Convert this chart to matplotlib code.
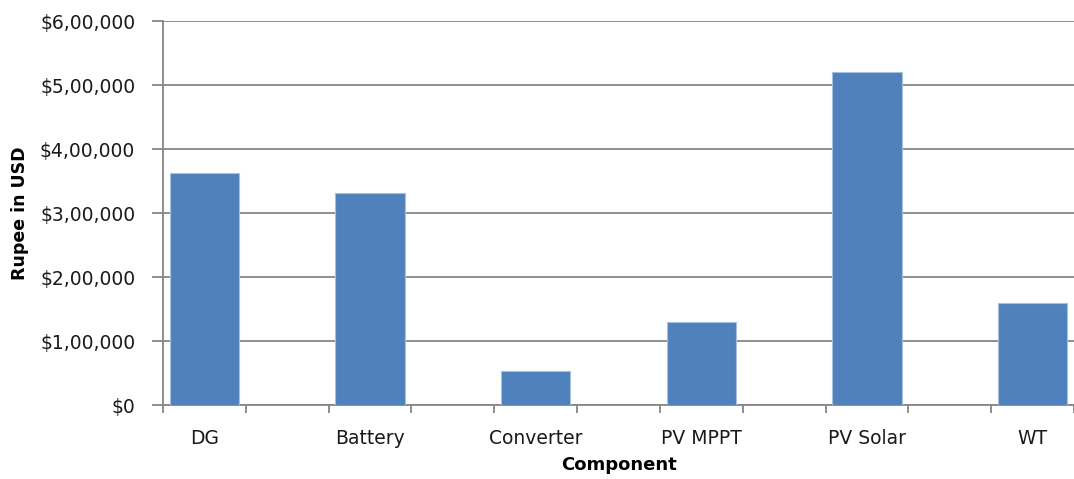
import numpy as np
import matplotlib.pyplot as plt
from matplotlib.ticker import FuncFormatter, FixedLocator

# component costs
components = ["DG", "Battery", "Converter", "PV MPPT", "PV Solar", "WT"]
costs = [362000, 332000, 53000, 130000, 520000, 160000]


def rupee_fmt(v, pos=None):
    ''' $ with Indian digit grouping, e.g. $5,00,000 '''
    s = str(int(round(v)))
    if len(s) <= 3:
        return "$" + s
    head, tail = s[:-3], s[-3:]
    groups = []
    while len(head) > 2:
        groups.insert(0, head[-2:])
        head = head[:-2]
    if head:
        groups.insert(0, head)
    return "$" + ",".join(groups) + "," + tail


plt.rcParams['font.family'] = ['DejaVu Sans']
grey = '#868686'

fig = plt.figure(figsize=[10.74, 4.79], dpi=100)
ax = fig.add_axes([163 / 1074, 1 - 405 / 479, 1 - 163 / 1074, (405 - 21) / 479])

# every component sits in its own slot with an empty slot after it
x = np.arange(len(components)) * 2
ax.bar(x, costs, width=0.84, color='#4F81BD', edgecolor='#A7C0DE',
       linewidth=0.8, zorder=3)

ax.set_ylim(0, 600000)
ax.set_xlim(-0.5, 10.4)
ax.yaxis.set_major_locator(FixedLocator(np.arange(0, 600001, 100000)))
ax.yaxis.set_major_formatter(FuncFormatter(rupee_fmt))
ax.grid(axis='y', color=grey, linewidth=1.3, zorder=0)

ax.set_xticks(x)
ax.set_xticklabels(components)
ax.set_xticks(np.arange(-0.5, 11, 1), minor=True)
ax.tick_params(axis='x', which='major', length=0, pad=17, labelsize=13.5,
               labelcolor='#1a1a1a')
ax.tick_params(axis='x', which='minor', length=6, width=1.3, color=grey,
               direction='out')
ax.tick_params(axis='y', length=8, width=1.3, color=grey, pad=12,
               labelsize=13.5, labelcolor='#1a1a1a')

for side in ['top', 'right']:
    ax.spines[side].set_visible(False)
for side in ['left', 'bottom']:
    ax.spines[side].set_color(grey)
    ax.spines[side].set_linewidth(1.3)

ax.set_xlabel("Component", fontsize=13, fontweight='bold', labelpad=6)
ax.set_ylabel("Rupee in USD", fontsize=12.5, fontweight='bold', labelpad=8)

plt.savefig("out.png", dpi=100)
plt.close()
